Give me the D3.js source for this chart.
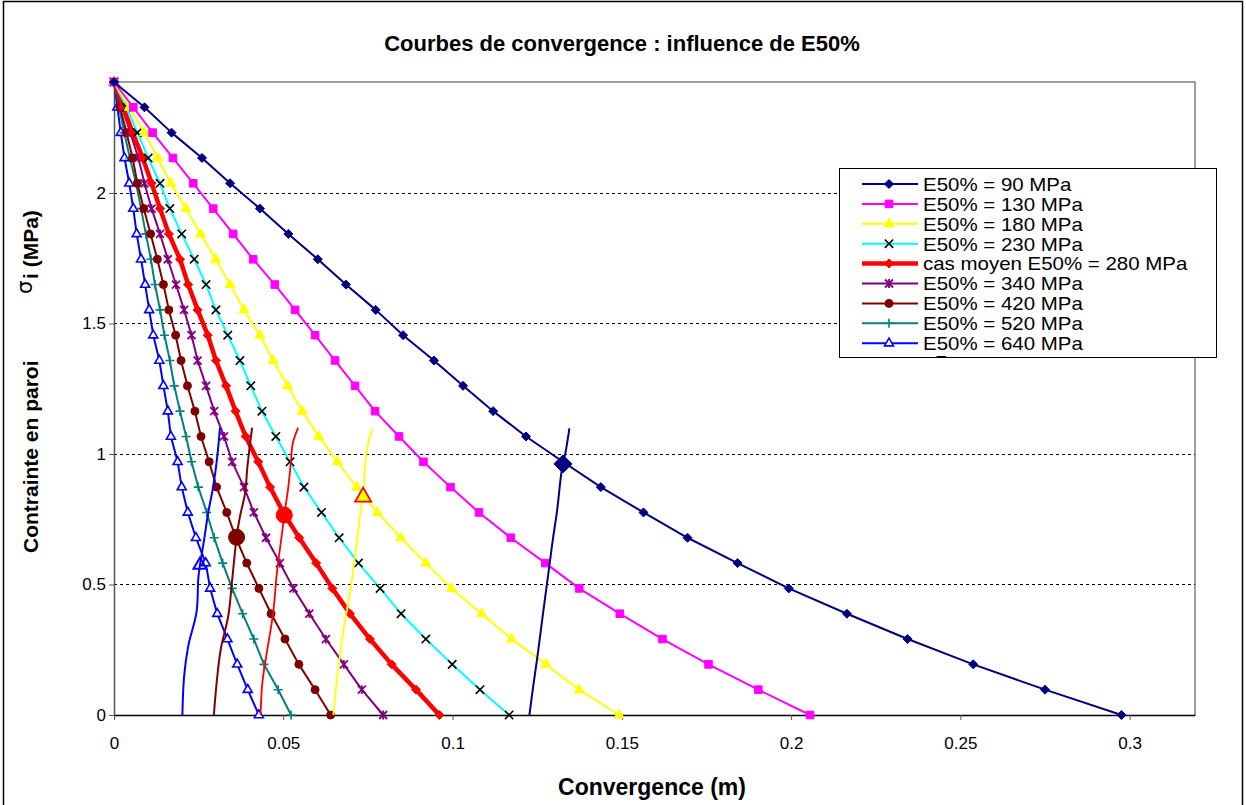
<!DOCTYPE html>
<html><head><meta charset="utf-8">
<script src="https://cdn.jsdelivr.net/npm/d3@7"></script>
<style>
html,body{margin:0;padding:0;background:#fff;}
svg{display:block;font-family:"Liberation Sans",Arial,sans-serif;}
</style></head>
<body>
<svg id="chart" width="1246" height="805"></svg>
<script>
// ---- data ----
const stress = [2.425,2.328,2.231,2.134,2.037,1.940,1.843,1.746,1.649,1.552,1.455,1.358,1.261,1.164,1.067,0.970,0.873,0.776,0.679,0.582,0.485,0.388,0.291,0.194,0.097,0];
const s90  = [0,0.0090,0.0170,0.0260,0.0343,0.0431,0.0515,0.0602,0.0685,0.0773,0.0854,0.0945,0.1031,0.1120,0.1217,0.1326,0.1438,0.1564,0.1694,0.1842,0.1993,0.2165,0.2344,0.2538,0.2750,0.2976];
const s130 = [0,0.0057,0.0114,0.0174,0.0234,0.0293,0.0352,0.0411,0.0475,0.0535,0.0594,0.0653,0.0712,0.0771,0.0842,0.0914,0.0994,0.1078,0.1172,0.1274,0.1374,0.1494,0.1620,0.1756,0.1903,0.2056];
const s180 = [0,0.0045,0.0090,0.0129,0.0168,0.0212,0.0256,0.0300,0.0343,0.0384,0.0431,0.0470,0.0513,0.0556,0.0605,0.0660,0.0717,0.0778,0.0847,0.0921,0.0997,0.1086,0.1175,0.1276,0.1374,0.1492];
const s230 = [0,0.0037,0.0069,0.0101,0.0136,0.0165,0.0200,0.0237,0.0272,0.0301,0.0336,0.0372,0.0404,0.0437,0.0478,0.0520,0.0561,0.0613,0.0665,0.0722,0.0786,0.0848,0.0921,0.0999,0.1081,0.1167];
const s280 = [0,0.0027,0.0055,0.0085,0.0111,0.0136,0.0162,0.0195,0.0219,0.0247,0.0277,0.0301,0.0331,0.0359,0.0389,0.0426,0.0461,0.0500,0.0547,0.0597,0.0645,0.0697,0.0756,0.0820,0.0892,0.0961];
const s340 = [0,0.0024,0.0048,0.0072,0.0090,0.0111,0.0136,0.0159,0.0183,0.0207,0.0229,0.0247,0.0272,0.0296,0.0325,0.0349,0.0384,0.0413,0.0449,0.0490,0.0530,0.0577,0.0626,0.0679,0.0732,0.0795];
const s420 = [0,0.0018,0.0037,0.0055,0.0069,0.0088,0.0108,0.0128,0.0146,0.0162,0.0182,0.0198,0.0217,0.0239,0.0257,0.0281,0.0303,0.0333,0.0360,0.0392,0.0428,0.0464,0.0505,0.0546,0.0594,0.0640];
const s520 = [0,0.0015,0.0030,0.0047,0.0065,0.0080,0.0094,0.0109,0.0121,0.0136,0.0149,0.0165,0.0178,0.0195,0.0213,0.0229,0.0249,0.0274,0.0296,0.0321,0.0349,0.0380,0.0413,0.0443,0.0485,0.0523];
const s640 = [0,0.0010,0.0020,0.0031,0.0045,0.0057,0.0067,0.0080,0.0092,0.0104,0.0116,0.0134,0.0146,0.0159,0.0168,0.0188,0.0200,0.0218,0.0242,0.0271,0.0284,0.0305,0.0335,0.0364,0.0395,0.0428];

const seriesNames = ["E50% = 90 MPa","E50% = 130 MPa","E50% = 180 MPa","E50% = 230 MPa","cas moyen E50% = 280 MPa","E50% = 340 MPa","E50% = 420 MPa","E50% = 520 MPa","E50% = 640 MPa"];

// support (confinement) curves: convergence x, pressure y
const sup90x  = [0.1227,0.1238,0.1250,0.1266,0.1283,0.1296,0.1309,0.1322,0.1335,0.1345];
const sup90y  = [0,0.108,0.217,0.377,0.543,0.670,0.785,0.932,1.015,1.098];
const sup180x = [0.0648,0.0656,0.0667,0.0679,0.0695,0.0712,0.0729,0.0736,0.0741,0.0751,0.0763];
const sup180y = [0,0.108,0.223,0.338,0.453,0.607,0.785,0.836,0.951,1.041,1.098];
const sup280x = [0.0433,0.0438,0.0451,0.0470,0.0482,0.0495,0.0503,0.0515,0.0523,0.0528,0.0544];
const sup280y = [0,0.121,0.236,0.390,0.556,0.683,0.766,0.875,0.977,1.041,1.101];
const sup420x = [0.0295,0.0303,0.0315,0.0338,0.0348,0.0357,0.0362,0.0372,0.0387,0.0394,0.0402,0.0408];
const sup420y = [0,0.121,0.249,0.383,0.505,0.620,0.681,0.760,0.849,0.951,1.041,1.101];
const sup640x = [0.0202,0.0207,0.0219,0.0244,0.0249,0.0254,0.0266,0.0278,0.0293,0.0305,0.0313];
const sup640y = [0,0.147,0.262,0.396,0.524,0.575,0.670,0.773,0.875,0.990,1.101];

// equilibrium points
const eqX = [0.1326,0.0736,0.0503,0.0362,0.0254];
const eqY = [0.962,0.836,0.766,0.681,0.575];

const xTicks = [0,0.05,0.1,0.15,0.2,0.25,0.3];
const xTickLabels = ["0","0.05","0.1","0.15","0.2","0.25","0.3"];
const yTicks = [0,0.5,1,1.5,2];
const yTickLabels = ["0","0.5","1","1.5","2"];
const gridVals = [0.5,1,1.5,2];

// ---- drawing ----
const svg = d3.select("#chart");
const X0=114, X1=1195, Y0=715, Y1=82;
const x = d3.scaleLinear().domain([0,0.3193]).range([X0,X1]);
const y = d3.scaleLinear().domain([0,2.425]).range([Y0,Y1]);

// outer frame
svg.append("rect").attr("x",3.5).attr("y",1.5).attr("width",1239).attr("height",812)
  .attr("fill","#fff").attr("stroke","#000").attr("stroke-width",1.5);

// plot border (top/right grey)
svg.append("path").attr("d",`M${X0},${Y1}H${X1}V${Y0}`).attr("fill","none").attr("stroke","#808080").attr("stroke-width",1.5);

// grid
svg.append("g").selectAll("line").data(gridVals).join("line")
  .attr("x1",X0).attr("x2",X1).attr("y1",d=>Math.round(y(d))+0.5).attr("y2",d=>Math.round(y(d))+0.5)
  .attr("stroke","#000").attr("stroke-width",1).attr("stroke-dasharray","3,3");

// axes
const xAxis = d3.axisBottom(x).tickValues(xTicks).tickFormat((d,i)=>xTickLabels[i]).tickSize(5).tickSizeOuter(0);
const gx = svg.append("g").attr("transform",`translate(0,${Y0})`).call(xAxis);
gx.select(".domain").attr("stroke","#000").attr("stroke-width",1.5);
gx.selectAll(".tick line").attr("stroke","#555");
gx.selectAll(".tick text").attr("font-size",17).attr("font-family","Liberation Sans, Arial").attr("fill","#000").attr("dy","1.5em");

const yAxis = d3.axisLeft(y).tickValues(yTicks).tickFormat((d,i)=>yTickLabels[i]).tickSize(5).tickSizeOuter(0);
const gy = svg.append("g").attr("transform",`translate(${X0},0)`).call(yAxis);
gy.select(".domain").attr("stroke","#555").attr("stroke-width",1.5);
gy.selectAll(".tick line").attr("stroke","#555");
gy.selectAll(".tick text").attr("font-size",17).attr("font-family","Liberation Sans, Arial").attr("fill","#000").attr("x",-8);

// marker paths
const mk = {
  diamond:r=>`M0,${-r}L${r},0L0,${r}L${-r},0Z`,
  square:r=>`M${-r},${-r}H${r}V${r}H${-r}Z`,
  triangle:r=>`M0,${-r*1.15}L${r},${r*0.6}L${-r},${r*0.6}Z`,
  cross:r=>`M${-r},${-r}L${r},${r}M${-r},${r}L${r},${-r}`,
  star:r=>`M${-r},${-r}L${r},${r}M${-r},${r}L${r},${-r}M0,${-r*1.1}V${r*1.1}`,
  circle:r=>`M${r},0A${r},${r} 0 1,1 ${-r},0A${r},${r} 0 1,1 ${r},0Z`,
  plus:r=>`M${-r},0H${r}M0,${-r}V${r}`
};

const series = [
  {vals:s90, name:seriesNames[0], color:"#000080", w:2, marker:"diamond", r:4.5, fill:"#000080", stroke:"#000080", sw:1},
  {vals:s130,name:seriesNames[1], color:"#FF00FF", w:2, marker:"square", r:3.8, fill:"#FF00FF", stroke:"#FF00FF", sw:1},
  {vals:s180,name:seriesNames[2], color:"#FFFF00", w:2, marker:"triangle", r:5, fill:"#FFFF00", stroke:"#FFFF00", sw:1},
  {vals:s230,name:seriesNames[3], color:"#00FFFF", w:2, marker:"cross", r:4.2, fill:"none", stroke:"#000", sw:1.6},
  {vals:s280,name:seriesNames[4], color:"#FF0000", w:4.5, marker:"diamond", r:4.5, fill:"#FF0000", stroke:"#FF0000", sw:1},
  {vals:s340,name:seriesNames[5], color:"#800080", w:2, marker:"star", r:4, fill:"none", stroke:"#800080", sw:1.8},
  {vals:s420,name:seriesNames[6], color:"#800000", w:2, marker:"circle", r:4, fill:"#800000", stroke:"#800000", sw:1},
  {vals:s520,name:seriesNames[7], color:"#008080", w:2, marker:"plus", r:4.5, fill:"none", stroke:"#008080", sw:1.6},
  {vals:s640,name:seriesNames[8], color:"#0000FF", w:2, marker:"triangle", r:4.5, fill:"#fff", stroke:"#0000FF", sw:1.6}
];

const line = d3.line().x(d=>x(d[0])).y(d=>y(d[1]));
const plot = svg.append("g");
series.slice().reverse().forEach(s=>{
  const pts = s.vals.map((v,i)=>[v,stress[i]]);
  plot.append("path").attr("d",line(pts)).attr("fill","none").attr("stroke",s.color).attr("stroke-width",s.w).attr("stroke-linejoin","round");
  plot.append("g").selectAll("path").data(pts).join("path")
    .attr("transform",d=>`translate(${x(d[0])},${y(d[1])})`)
    .attr("d",mk[s.marker](s.r)).attr("fill",s.fill).attr("stroke",s.stroke).attr("stroke-width",s.sw);
});

// support curves
const supports = [
  {xs:sup640x, ys:sup640y, color:"#0000FF", w:2},
  {xs:sup420x, ys:sup420y, color:"#800000", w:2},
  {xs:sup280x, ys:sup280y, color:"#FF0000", w:1.8},
  {xs:sup180x, ys:sup180y, color:"#FFFF00", w:1.8},
  {xs:sup90x,  ys:sup90y,  color:"#000080", w:2}
];
const sline = d3.line().x(d=>x(d[0])).y(d=>y(d[1])).curve(d3.curveCatmullRom);
supports.forEach(s=>{
  plot.append("path").attr("d",sline(s.xs.map((v,i)=>[v,s.ys[i]]))).attr("fill","none").attr("stroke",s.color).attr("stroke-width",s.w);
});

// equilibrium big markers
const eqStyle = [
  {m:"diamond", r:9, fill:"#000080", stroke:"#000080", sw:1},
  {m:"triangle", r:8, fill:"#FFFF00", stroke:"#FF0000", sw:1.8},
  {m:"circle", r:8, fill:"#FF0000", stroke:"#FF0000", sw:1},
  {m:"circle", r:8, fill:"#800000", stroke:"#800000", sw:1},
  {m:"triangle", r:6.5, fill:"none", stroke:"#0000FF", sw:2}
];
eqX.forEach((v,i)=>{
  const st = eqStyle[i];
  plot.append("path").attr("transform",`translate(${x(v)},${y(eqY[i])})`)
    .attr("d",mk[st.m](st.r)).attr("fill",st.fill).attr("stroke",st.stroke).attr("stroke-width",st.sw);
});

// title
svg.append("text").attr("x",622).attr("y",51).attr("text-anchor","middle")
  .attr("font-size",22).attr("font-weight","bold").text("Courbes de convergence : influence de E50%");

// axis titles
svg.append("text").attr("x",652).attr("y",795).attr("text-anchor","middle")
  .attr("font-size",23).attr("font-weight","bold").text("Convergence (m)");
const ytg = svg.append("g").attr("transform","translate(38,0) rotate(-90)").attr("font-weight","bold").attr("font-size",21);
ytg.append("text").attr("x",-553).attr("y",0).text("Contrainte en paroi");
ytg.append("text").attr("x",-294).attr("y",-6).attr("font-family","DejaVu Sans").attr("font-weight","normal").text("σ");
ytg.append("text").attr("x",-279).attr("y",0).text("i (MPa)");

// legend
const L = {x:839, y:168, w:377, h:189};
svg.append("defs").append("clipPath").attr("id","legclip").append("rect").attr("x",L.x).attr("y",L.y).attr("width",L.w).attr("height",L.h);
const lg = svg.append("g");
lg.append("rect").attr("x",L.x+0.5).attr("y",L.y+0.5).attr("width",L.w).attr("height",L.h).attr("fill","#fff").attr("stroke","#000").attr("stroke-width",1);
const rowY = i=>184+i*19.9;
series.forEach((s,i)=>{
  const yy = rowY(i);
  lg.append("line").attr("x1",862).attr("x2",918).attr("y1",yy).attr("y2",yy).attr("stroke",s.color).attr("stroke-width",s.w);
  lg.append("path").attr("transform",`translate(889,${yy})`).attr("d",mk[s.marker](s.r)).attr("fill",s.fill).attr("stroke",s.stroke).attr("stroke-width",s.sw);
  lg.append("text").attr("transform",`translate(923,${yy+6.8}) scale(1.1,1)`).attr("font-size",18.6).text(s.name);
});
lg.append("g").attr("clip-path","url(#legclip)").append("text")
  .attr("transform",`translate(923,${rowY(9)+5.5}) scale(1.1,1)`).attr("font-size",18.6).text("σ7");
</script>
</body></html>
